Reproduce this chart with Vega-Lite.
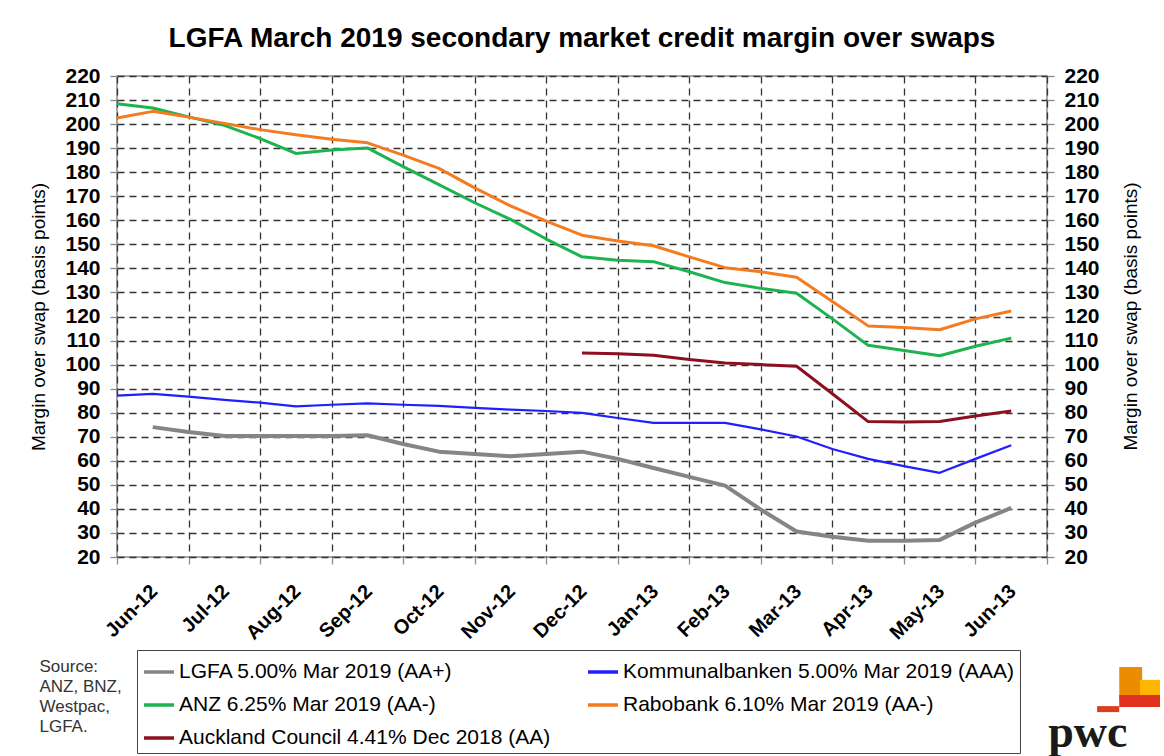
{
  "$schema": "https://vega.github.io/schema/vega-lite/v6.json",
  "width": 930,
  "height": 481,
  "autosize": {"type": "none"},
  "padding": {"left": 117, "top": 76, "right": 117, "bottom": 199},
  "background": "white",
  "config": {
    "font": "Liberation Sans",
    "view": {"stroke": "#8a8a8a", "strokeWidth": 1.5},
    "axis": {"labelFont": "Liberation Sans", "titleFont": "Liberation Sans"}
  },
  "title": {
    "text": "LGFA March 2019 secondary market credit margin over swaps",
    "font": "Liberation Sans",
    "fontSize": 28,
    "fontWeight": "bold",
    "color": "#000000",
    "anchor": "middle",
    "frame": "group",
    "offset": 12
  },
  "datasets": {
    "spreads": [
      {"s": "ANZ 6.25% Mar 2019 (AA-)", "m": -0.5, "v": 208.5},
      {"s": "ANZ 6.25% Mar 2019 (AA-)", "m": 0, "v": 206.7},
      {"s": "ANZ 6.25% Mar 2019 (AA-)", "m": 0.5, "v": 203},
      {"s": "ANZ 6.25% Mar 2019 (AA-)", "m": 1, "v": 199.5},
      {"s": "ANZ 6.25% Mar 2019 (AA-)", "m": 1.5, "v": 194},
      {"s": "ANZ 6.25% Mar 2019 (AA-)", "m": 2, "v": 187.8},
      {"s": "ANZ 6.25% Mar 2019 (AA-)", "m": 2.5, "v": 189.2},
      {"s": "ANZ 6.25% Mar 2019 (AA-)", "m": 3, "v": 190.1},
      {"s": "ANZ 6.25% Mar 2019 (AA-)", "m": 3.5, "v": 182.3},
      {"s": "ANZ 6.25% Mar 2019 (AA-)", "m": 4, "v": 174.8},
      {"s": "ANZ 6.25% Mar 2019 (AA-)", "m": 4.5, "v": 167.3},
      {"s": "ANZ 6.25% Mar 2019 (AA-)", "m": 5, "v": 160.4},
      {"s": "ANZ 6.25% Mar 2019 (AA-)", "m": 5.5, "v": 152.2},
      {"s": "ANZ 6.25% Mar 2019 (AA-)", "m": 6, "v": 144.8},
      {"s": "ANZ 6.25% Mar 2019 (AA-)", "m": 6.5, "v": 143.4},
      {"s": "ANZ 6.25% Mar 2019 (AA-)", "m": 7, "v": 142.8},
      {"s": "ANZ 6.25% Mar 2019 (AA-)", "m": 7.5, "v": 138.6},
      {"s": "ANZ 6.25% Mar 2019 (AA-)", "m": 8, "v": 134.1},
      {"s": "ANZ 6.25% Mar 2019 (AA-)", "m": 8.5, "v": 131.7},
      {"s": "ANZ 6.25% Mar 2019 (AA-)", "m": 9, "v": 129.7},
      {"s": "ANZ 6.25% Mar 2019 (AA-)", "m": 9.5, "v": 119},
      {"s": "ANZ 6.25% Mar 2019 (AA-)", "m": 10, "v": 108},
      {"s": "ANZ 6.25% Mar 2019 (AA-)", "m": 10.5, "v": 105.9},
      {"s": "ANZ 6.25% Mar 2019 (AA-)", "m": 11, "v": 103.7},
      {"s": "ANZ 6.25% Mar 2019 (AA-)", "m": 11.5, "v": 107.6},
      {"s": "ANZ 6.25% Mar 2019 (AA-)", "m": 12, "v": 111},
      {"s": "Rabobank 6.10% Mar 2019 (AA-)", "m": -0.5, "v": 202.5},
      {"s": "Rabobank 6.10% Mar 2019 (AA-)", "m": 0, "v": 205.3},
      {"s": "Rabobank 6.10% Mar 2019 (AA-)", "m": 0.5, "v": 202.9},
      {"s": "Rabobank 6.10% Mar 2019 (AA-)", "m": 1, "v": 200.3},
      {"s": "Rabobank 6.10% Mar 2019 (AA-)", "m": 1.5, "v": 197.7},
      {"s": "Rabobank 6.10% Mar 2019 (AA-)", "m": 2, "v": 195.6},
      {"s": "Rabobank 6.10% Mar 2019 (AA-)", "m": 2.5, "v": 193.7},
      {"s": "Rabobank 6.10% Mar 2019 (AA-)", "m": 3, "v": 192.2},
      {"s": "Rabobank 6.10% Mar 2019 (AA-)", "m": 3.5, "v": 187.1},
      {"s": "Rabobank 6.10% Mar 2019 (AA-)", "m": 4, "v": 181.6},
      {"s": "Rabobank 6.10% Mar 2019 (AA-)", "m": 4.5, "v": 173.5},
      {"s": "Rabobank 6.10% Mar 2019 (AA-)", "m": 5, "v": 166},
      {"s": "Rabobank 6.10% Mar 2019 (AA-)", "m": 5.5, "v": 159.7},
      {"s": "Rabobank 6.10% Mar 2019 (AA-)", "m": 6, "v": 153.8},
      {"s": "Rabobank 6.10% Mar 2019 (AA-)", "m": 6.5, "v": 151.4},
      {"s": "Rabobank 6.10% Mar 2019 (AA-)", "m": 7, "v": 149.4},
      {"s": "Rabobank 6.10% Mar 2019 (AA-)", "m": 7.5, "v": 144.8},
      {"s": "Rabobank 6.10% Mar 2019 (AA-)", "m": 8, "v": 140.3},
      {"s": "Rabobank 6.10% Mar 2019 (AA-)", "m": 8.5, "v": 138.6},
      {"s": "Rabobank 6.10% Mar 2019 (AA-)", "m": 9, "v": 136.3},
      {"s": "Rabobank 6.10% Mar 2019 (AA-)", "m": 9.5, "v": 126.2},
      {"s": "Rabobank 6.10% Mar 2019 (AA-)", "m": 10, "v": 116.1},
      {"s": "Rabobank 6.10% Mar 2019 (AA-)", "m": 10.5, "v": 115.4},
      {"s": "Rabobank 6.10% Mar 2019 (AA-)", "m": 11, "v": 114.5},
      {"s": "Rabobank 6.10% Mar 2019 (AA-)", "m": 11.5, "v": 119},
      {"s": "Rabobank 6.10% Mar 2019 (AA-)", "m": 12, "v": 122.3},
      {"s": "Kommunalbanken 5.00% Mar 2019 (AAA)", "m": -0.5, "v": 87.1},
      {"s": "Kommunalbanken 5.00% Mar 2019 (AAA)", "m": 0, "v": 87.8},
      {"s": "Kommunalbanken 5.00% Mar 2019 (AAA)", "m": 0.5, "v": 86.7},
      {"s": "Kommunalbanken 5.00% Mar 2019 (AAA)", "m": 1, "v": 85.3},
      {"s": "Kommunalbanken 5.00% Mar 2019 (AAA)", "m": 1.5, "v": 84.2},
      {"s": "Kommunalbanken 5.00% Mar 2019 (AAA)", "m": 2, "v": 82.6},
      {"s": "Kommunalbanken 5.00% Mar 2019 (AAA)", "m": 2.5, "v": 83.3},
      {"s": "Kommunalbanken 5.00% Mar 2019 (AAA)", "m": 3, "v": 83.9},
      {"s": "Kommunalbanken 5.00% Mar 2019 (AAA)", "m": 3.5, "v": 83.3},
      {"s": "Kommunalbanken 5.00% Mar 2019 (AAA)", "m": 4, "v": 82.8},
      {"s": "Kommunalbanken 5.00% Mar 2019 (AAA)", "m": 4.5, "v": 82},
      {"s": "Kommunalbanken 5.00% Mar 2019 (AAA)", "m": 5, "v": 81.3},
      {"s": "Kommunalbanken 5.00% Mar 2019 (AAA)", "m": 5.5, "v": 80.7},
      {"s": "Kommunalbanken 5.00% Mar 2019 (AAA)", "m": 6, "v": 79.9},
      {"s": "Kommunalbanken 5.00% Mar 2019 (AAA)", "m": 6.5, "v": 77.8},
      {"s": "Kommunalbanken 5.00% Mar 2019 (AAA)", "m": 7, "v": 75.8},
      {"s": "Kommunalbanken 5.00% Mar 2019 (AAA)", "m": 7.5, "v": 75.8},
      {"s": "Kommunalbanken 5.00% Mar 2019 (AAA)", "m": 8, "v": 75.8},
      {"s": "Kommunalbanken 5.00% Mar 2019 (AAA)", "m": 8.5, "v": 73.1},
      {"s": "Kommunalbanken 5.00% Mar 2019 (AAA)", "m": 9, "v": 70.1},
      {"s": "Kommunalbanken 5.00% Mar 2019 (AAA)", "m": 9.5, "v": 64.9},
      {"s": "Kommunalbanken 5.00% Mar 2019 (AAA)", "m": 10, "v": 60.8},
      {"s": "Kommunalbanken 5.00% Mar 2019 (AAA)", "m": 10.5, "v": 57.8},
      {"s": "Kommunalbanken 5.00% Mar 2019 (AAA)", "m": 11, "v": 55},
      {"s": "Kommunalbanken 5.00% Mar 2019 (AAA)", "m": 11.5, "v": 60.8},
      {"s": "Kommunalbanken 5.00% Mar 2019 (AAA)", "m": 12, "v": 66.5},
      {"s": "LGFA 5.00% Mar 2019 (AA+)", "m": 0, "v": 74},
      {"s": "LGFA 5.00% Mar 2019 (AA+)", "m": 0.5, "v": 72},
      {"s": "LGFA 5.00% Mar 2019 (AA+)", "m": 1, "v": 70.3},
      {"s": "LGFA 5.00% Mar 2019 (AA+)", "m": 1.5, "v": 70.3},
      {"s": "LGFA 5.00% Mar 2019 (AA+)", "m": 2, "v": 70.3},
      {"s": "LGFA 5.00% Mar 2019 (AA+)", "m": 2.5, "v": 70.3},
      {"s": "LGFA 5.00% Mar 2019 (AA+)", "m": 3, "v": 70.6},
      {"s": "LGFA 5.00% Mar 2019 (AA+)", "m": 3.5, "v": 67},
      {"s": "LGFA 5.00% Mar 2019 (AA+)", "m": 4, "v": 63.8},
      {"s": "LGFA 5.00% Mar 2019 (AA+)", "m": 4.5, "v": 62.8},
      {"s": "LGFA 5.00% Mar 2019 (AA+)", "m": 5, "v": 61.9},
      {"s": "LGFA 5.00% Mar 2019 (AA+)", "m": 5.5, "v": 62.8},
      {"s": "LGFA 5.00% Mar 2019 (AA+)", "m": 6, "v": 63.8},
      {"s": "LGFA 5.00% Mar 2019 (AA+)", "m": 6.5, "v": 60.8},
      {"s": "LGFA 5.00% Mar 2019 (AA+)", "m": 7, "v": 57},
      {"s": "LGFA 5.00% Mar 2019 (AA+)", "m": 7.5, "v": 53.3},
      {"s": "LGFA 5.00% Mar 2019 (AA+)", "m": 8, "v": 49.7},
      {"s": "LGFA 5.00% Mar 2019 (AA+)", "m": 8.5, "v": 39.7},
      {"s": "LGFA 5.00% Mar 2019 (AA+)", "m": 9, "v": 30.6},
      {"s": "LGFA 5.00% Mar 2019 (AA+)", "m": 9.5, "v": 28.4},
      {"s": "LGFA 5.00% Mar 2019 (AA+)", "m": 10, "v": 26.8},
      {"s": "LGFA 5.00% Mar 2019 (AA+)", "m": 10.5, "v": 26.8},
      {"s": "LGFA 5.00% Mar 2019 (AA+)", "m": 11, "v": 27.1},
      {"s": "LGFA 5.00% Mar 2019 (AA+)", "m": 11.5, "v": 34.3},
      {"s": "LGFA 5.00% Mar 2019 (AA+)", "m": 12, "v": 40.4},
      {"s": "Auckland Council 4.41% Dec 2018 (AA)", "m": 6, "v": 104.8},
      {"s": "Auckland Council 4.41% Dec 2018 (AA)", "m": 6.5, "v": 104.5},
      {"s": "Auckland Council 4.41% Dec 2018 (AA)", "m": 7, "v": 103.9},
      {"s": "Auckland Council 4.41% Dec 2018 (AA)", "m": 7.5, "v": 102.1},
      {"s": "Auckland Council 4.41% Dec 2018 (AA)", "m": 8, "v": 100.7},
      {"s": "Auckland Council 4.41% Dec 2018 (AA)", "m": 8.5, "v": 100},
      {"s": "Auckland Council 4.41% Dec 2018 (AA)", "m": 9, "v": 99.3},
      {"s": "Auckland Council 4.41% Dec 2018 (AA)", "m": 9.5, "v": 87.9},
      {"s": "Auckland Council 4.41% Dec 2018 (AA)", "m": 10, "v": 76.3},
      {"s": "Auckland Council 4.41% Dec 2018 (AA)", "m": 10.5, "v": 76.1},
      {"s": "Auckland Council 4.41% Dec 2018 (AA)", "m": 11, "v": 76.3},
      {"s": "Auckland Council 4.41% Dec 2018 (AA)", "m": 11.5, "v": 78.6},
      {"s": "Auckland Council 4.41% Dec 2018 (AA)", "m": 12, "v": 80.7}
    ],
    "logo": [{"brand": "pwc"}]
  },
  "layer": [
    {
      "data": {"name": "spreads"},
      "mark": {"type": "line", "strokeJoin": "round", "strokeCap": "butt"},
      "encoding": {
        "x": {
          "field": "m",
          "type": "quantitative",
          "scale": {"domain": [-0.5, 12.5], "nice": false, "zero": false},
          "axis": {
            "values": [-0.5, 0.5, 1.5, 2.5, 3.5, 4.5, 5.5, 6.5, 7.5, 8.5, 9.5, 10.5, 11.5, 12.5],
            "labelExpr": "['Jun-12','Jul-12','Aug-12','Sep-12','Oct-12','Nov-12','Dec-12','Jan-13','Feb-13','Mar-13','Apr-13','May-13','Jun-13',''][round(datum.value + 0.5)]",
            "labelOffset": 37,
            "labelAngle": -45,
            "labelAlign": "right",
            "labelBaseline": "middle",
            "labelPadding": 24,
            "labelFontSize": 20,
            "labelFontWeight": "bold",
            "labelColor": "#000000",
            "labelOverlap": false,
            "labelFlush": false,
            "labelBound": false,
            "grid": true,
            "gridColor": "#333333",
            "gridDash": [7, 5],
            "gridWidth": 1.3,
            "domain": false,
            "ticks": true,
            "tickSize": 7,
            "tickColor": "#8a8a8a",
            "tickWidth": 1.3,
            "title": ["Source:", "ANZ, BNZ,", "Westpac,", "LGFA."],
            "titleFontSize": 17,
            "titleFontWeight": "normal",
            "titleColor": "#333333",
            "titleLineHeight": 20,
            "titleAlign": "left",
            "titleBaseline": "top",
            "titleAngle": 0,
            "titleX": -78,
            "titleY": 101
          }
        },
        "y": {
          "field": "v",
          "type": "quantitative",
          "scale": {"domain": [20, 220], "nice": false, "zero": false},
          "axis": {
            "orient": "left",
            "values": [20, 30, 40, 50, 60, 70, 80, 90, 100, 110, 120, 130, 140, 150, 160, 170, 180, 190, 200, 210, 220],
            "labelFontSize": 21,
            "labelFontWeight": "bold",
            "labelColor": "#000000",
            "labelPadding": 10,
            "labelOverlap": false,
            "grid": true,
            "gridColor": "#333333",
            "gridDash": [7, 5],
            "gridWidth": 1.3,
            "domain": false,
            "tickSize": 7,
            "tickColor": "#8a8a8a",
            "tickWidth": 1.3,
            "title": "Margin over swap (basis points)",
            "titleFontSize": 19,
            "titleFontWeight": "normal",
            "titleColor": "#000000",
            "titlePadding": 16
          }
        },
        "color": {
          "field": "s",
          "type": "nominal",
          "scale": {
            "domain": ["LGFA 5.00% Mar 2019 (AA+)", "Kommunalbanken 5.00% Mar 2019 (AAA)", "ANZ 6.25% Mar 2019 (AA-)", "Rabobank 6.10% Mar 2019 (AA-)", "Auckland Council 4.41% Dec 2018 (AA)"],
            "range": ["#858585", "#1f1fff", "#1db34f", "#f47b20", "#8c1020"]
          },
          "legend": {
            "orient": "none",
            "legendX": 20,
            "legendY": 574,
            "direction": "horizontal",
            "columns": 2,
            "columnPadding": 30,
            "rowPadding": 6,
            "title": null,
            "symbolType": "stroke",
            "symbolSize": 900,
            "symbolStrokeWidth": 3.5,
            "labelFontSize": 21,
            "labelFont": "Liberation Sans",
            "labelColor": "#000000",
            "labelOffset": 3,
            "labelLimit": 600,
            "strokeColor": "#444444",
            "fillColor": "#ffffff",
            "padding": 5
          }
        },
        "strokeWidth": {
          "condition": [
            {"test": "datum.s === 'LGFA 5.00% Mar 2019 (AA+)'", "value": 4},
            {"test": "datum.s === 'Kommunalbanken 5.00% Mar 2019 (AAA)'", "value": 2.2}
          ],
          "value": 3
        }
      }
    },
    {
      "data": {"name": "spreads"},
      "mark": {"type": "line", "opacity": 0},
      "encoding": {
        "x": {"field": "m", "type": "quantitative", "scale": {"domain": [-0.5, 12.5], "nice": false, "zero": false}},
        "y": {
          "field": "v",
          "type": "quantitative",
          "scale": {"domain": [20, 220], "nice": false, "zero": false},
          "axis": {
            "orient": "right",
            "values": [20, 30, 40, 50, 60, 70, 80, 90, 100, 110, 120, 130, 140, 150, 160, 170, 180, 190, 200, 210, 220],
            "labelFontSize": 21,
            "labelFontWeight": "bold",
            "labelColor": "#000000",
            "labelPadding": 10,
            "labelOverlap": false,
            "grid": false,
            "domain": false,
            "tickSize": 7,
            "tickColor": "#8a8a8a",
            "tickWidth": 1.3,
            "title": "Margin over swap (basis points)",
            "titleAngle": 270,
            "titleX": 83,
            "titleY": 240,
            "titleAlign": "center",
            "titleBaseline": "middle",
            "titleFontSize": 19,
            "titleFontWeight": "normal",
            "titleColor": "#000000"
          }
        },
        "detail": {"field": "s", "type": "nominal"}
      }
    },
    {
      "data": {"name": "logo"},
      "mark": {"type": "rect", "color": "#eb8c00", "clip": false},
      "encoding": {
        "x": {"datum": 13.51, "type": "quantitative", "scale": {"domain": [-0.5, 12.5], "nice": false, "zero": false}},
        "x2": {"datum": 13.83},
        "y": {"datum": -25.7, "type": "quantitative", "scale": {"domain": [20, 220], "nice": false, "zero": false}, "axis": null},
        "y2": {"datum": -39.5}
      }
    },
    {
      "data": {"name": "logo"},
      "mark": {"type": "rect", "color": "#ffb600", "clip": false},
      "encoding": {
        "x": {"datum": 13.8, "type": "quantitative", "scale": {"domain": [-0.5, 12.5], "nice": false, "zero": false}},
        "x2": {"datum": 14.08},
        "y": {"datum": -31.1, "type": "quantitative", "scale": {"domain": [20, 220], "nice": false, "zero": false}, "axis": null},
        "y2": {"datum": -39.5}
      }
    },
    {
      "data": {"name": "logo"},
      "mark": {"type": "rect", "color": "#e0301e", "clip": false},
      "encoding": {
        "x": {"datum": 13.51, "type": "quantitative", "scale": {"domain": [-0.5, 12.5], "nice": false, "zero": false}},
        "x2": {"datum": 14.08},
        "y": {"datum": -37.4, "type": "quantitative", "scale": {"domain": [20, 220], "nice": false, "zero": false}, "axis": null},
        "y2": {"datum": -42.4}
      }
    },
    {
      "data": {"name": "logo"},
      "mark": {"type": "rect", "color": "#d93f1e", "clip": false},
      "encoding": {
        "x": {"datum": 13.2, "type": "quantitative", "scale": {"domain": [-0.5, 12.5], "nice": false, "zero": false}},
        "x2": {"datum": 13.51},
        "y": {"datum": -42, "type": "quantitative", "scale": {"domain": [20, 220], "nice": false, "zero": false}, "axis": null},
        "y2": {"datum": -44.5}
      }
    },
    {
      "data": {"name": "logo"},
      "mark": {"type": "text", "font": "Liberation Serif", "fontWeight": "bold", "fontSize": 46, "align": "center", "baseline": "alphabetic", "color": "#1a1a1a", "clip": false},
      "encoding": {
        "text": {"field": "brand", "type": "nominal"},
        "x": {"datum": 13.07, "type": "quantitative", "scale": {"domain": [-0.5, 12.5], "nice": false, "zero": false}},
        "y": {"datum": -59, "type": "quantitative", "scale": {"domain": [20, 220], "nice": false, "zero": false}, "axis": null}
      }
    }
  ],
  "resolve": {"scale": {"y": "shared", "x": "shared"}, "axis": {"y": "independent"}}
}
